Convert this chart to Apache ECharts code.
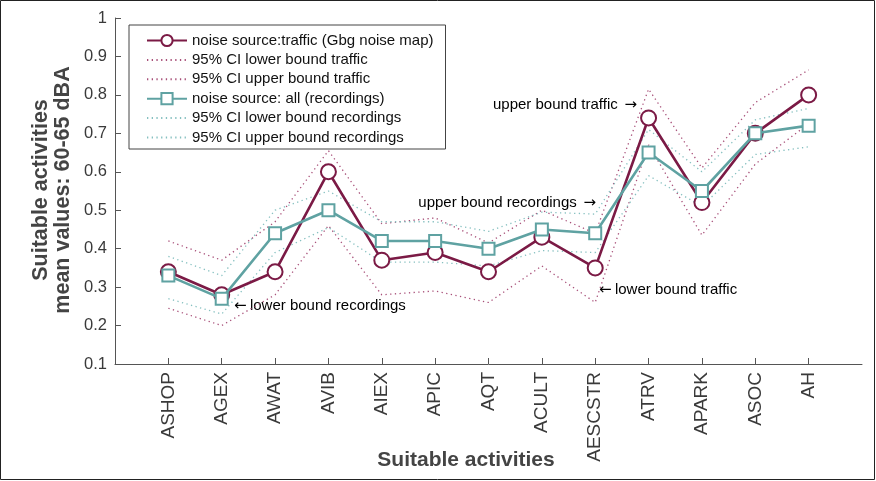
<!DOCTYPE html>
<html>
<head>
<meta charset="utf-8">
<script src="https://cdn.jsdelivr.net/npm/echarts@6/dist/echarts.min.js"></script>
<style>
  html, body { margin: 0; padding: 0; background: #fff; }
  #chart { width: 876px; height: 481px; }
</style>
</head>
<body>
<div id="chart"></div>
<script>
const categories = ['ASHOP', 'AGEX', 'AWAT', 'AVIB', 'AIEX', 'APIC', 'AQT', 'ACULT', 'AESCSTR', 'ATRV', 'APARK', 'ASOC', 'AH']
const trafficMean = [0.34, 0.28, 0.34, 0.60, 0.37, 0.39, 0.34, 0.43, 0.35, 0.74, 0.52, 0.70, 0.80]
const trafficLower = [0.245, 0.20, 0.28, 0.46, 0.28, 0.29, 0.26, 0.355, 0.26, 0.67, 0.435, 0.62, 0.725]
const trafficUpper = [0.42, 0.37, 0.47, 0.655, 0.465, 0.48, 0.415, 0.50, 0.44, 0.815, 0.61, 0.78, 0.865]
const recMean = [0.33, 0.27, 0.44, 0.50, 0.42, 0.42, 0.40, 0.45, 0.44, 0.65, 0.55, 0.70, 0.72]
const recLower = [0.27, 0.23, 0.39, 0.455, 0.365, 0.365, 0.355, 0.395, 0.39, 0.59, 0.51, 0.645, 0.665]
const recUpper = [0.38, 0.33, 0.50, 0.55, 0.47, 0.47, 0.445, 0.495, 0.49, 0.71, 0.60, 0.735, 0.765]

const FONT = '"Liberation Sans", Arial, Helvetica, sans-serif'
const maroon = '#7b1a45'
const teal = '#5fa2a2'
const maroonDot = '#a85079'
const tealDot = '#86c0c0'
const positions = categories.map((c, i) => i + 1)

const toPairs = arr => arr.map((v, i) => [positions[i], v])

function dotted(name, arr, color) {
  return {
    name: name,
    type: 'line',
    data: toPairs(arr),
    symbol: 'none',
    silent: true,
    lineStyle: {color: color, width: 1.3, type: [1.3, 3.4]},
    itemStyle: {color: color, opacity: 0},
    z: 2
  }
}

// annotation text, arrow in DejaVu (closer to the original glyph)
const arrowRich = {
  t: {fontFamily: FONT, fontSize: 15, color: '#111'},
  a: {fontFamily: '"DejaVu Sans"', fontSize: 15, color: '#444'}
}
function note(x, y, text, align) {
  return {
    type: 'text',
    x: x,
    y: y,
    style: {text: text, rich: arrowRich, align: align, verticalAlign: 'middle'}
  }
}

const chart = echarts.init(document.getElementById('chart'))
chart.setOption({
  animation: false,
  textStyle: {fontFamily: FONT},
  grid: {left: 115, right: 14, top: 18, bottom: 117},
  legend: {
    left: 129,
    top: 25,
    orient: 'vertical',
    align: 'left',
    itemWidth: 40,
    itemHeight: 14,
    itemGap: 4.4,
    padding: [8, 12, 4, 17],
    borderColor: '#444',
    borderWidth: 1,
    backgroundColor: '#fff',
    textStyle: {fontFamily: FONT, fontSize: 15, color: '#111'},
    data: [
      'noise source:traffic (Gbg noise map)',
      '95% CI lower bound traffic',
      '95% CI upper bound traffic',
      'noise source: all (recordings)',
      '95% CI lower bound recordings',
      '95% CI upper bound recordings'
    ]
  },
  xAxis: {
    type: 'value',
    min: 0,
    max: 14,
    interval: 1,
    axisLine: {lineStyle: {color: '#555', width: 1}},
    axisTick: {inside: true, length: 6, customValues: positions, lineStyle: {color: '#555'}},
    axisLabel: {
      customValues: positions,
      rotate: 90,
      margin: 8,
      fontSize: 19,
      color: '#3a3a3a',
      formatter: v => categories[v - 1] || ''
    },
    splitLine: {show: false}
  },
  yAxis: {
    type: 'value',
    min: 0.1,
    max: 1,
    interval: 0.1,
    axisLine: {show: true, lineStyle: {color: '#555', width: 1}},
    axisTick: {show: true, inside: true, length: 6, lineStyle: {color: '#555'}},
    axisLabel: {
      fontSize: 16.5,
      color: '#3a3a3a',
      margin: 8,
      formatter: v => {
        const r = Math.round(v * 10) / 10
        return r === 1 ? '1' : r.toFixed(1)
      }
    },
    splitLine: {show: false}
  },
  series: [
    dotted('95% CI lower bound traffic', trafficLower, maroonDot),
    dotted('95% CI upper bound traffic', trafficUpper, maroonDot),
    dotted('95% CI lower bound recordings', recLower, tealDot),
    dotted('95% CI upper bound recordings', recUpper, tealDot),
    {
      name: 'noise source:traffic (Gbg noise map)',
      type: 'line',
      data: toPairs(trafficMean),
      symbol: 'emptyCircle',
      symbolSize: 15,
      lineStyle: {color: maroon, width: 2.6},
      itemStyle: {color: maroon, borderColor: maroon, borderWidth: 2.4},
      z: 3
    },
    {
      name: 'noise source: all (recordings)',
      type: 'line',
      data: toPairs(recMean),
      symbol: 'emptyRect',
      symbolSize: 12,
      lineStyle: {color: teal, width: 2.6},
      itemStyle: {color: teal, borderColor: teal, borderWidth: 2.4},
      z: 4
    }
  ],
  graphic: [
    {
      type: 'rect',
      shape: {x: 0.5, y: 0.5, width: 874, height: 479},
      style: {fill: 'none', stroke: '#222', lineWidth: 1},
      silent: true
    },
    {
      type: 'text',
      x: 466,
      y: 460,
      style: {text: 'Suitable activities', font: 'bold 21px ' + FONT, fill: '#444', align: 'center', verticalAlign: 'middle'}
    },
    {
      type: 'text',
      x: 41,
      y: 190,
      rotation: Math.PI / 2,
      style: {text: 'Suitable activities', font: 'bold 21.5px ' + FONT, fill: '#444', align: 'center', verticalAlign: 'middle'}
    },
    {
      type: 'text',
      x: 63,
      y: 190,
      rotation: Math.PI / 2,
      style: {text: 'mean values: 60-65 dBA', font: 'bold 21.5px ' + FONT, fill: '#444', align: 'center', verticalAlign: 'middle'}
    },
    note(637, 105, '{t|upper bound traffic}  {a|\u2192}', 'right'),
    note(596, 203, '{t|upper bound recordings}  {a|\u2192}', 'right'),
    note(599, 290, '{a|\u2190} {t|lower bound traffic}', 'left'),
    note(234, 306, '{a|\u2190} {t|lower bound recordings}', 'left')
  ]
})
</script>
</body>
</html>
